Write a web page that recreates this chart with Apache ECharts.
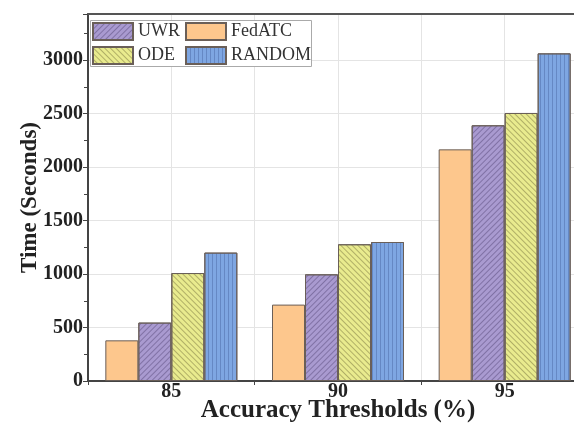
<!DOCTYPE html>
<html>
<head>
<meta charset="utf-8">
<script src="https://cdn.jsdelivr.net/npm/echarts@6/dist/echarts.min.js"></script>
<style>
html,body{margin:0;padding:0;background:#fff;overflow:hidden;width:574px;height:428px;}
#wrap{position:absolute;left:0;top:0;width:574px;height:428px;overflow:hidden;}
#c{position:absolute;left:0;top:0;width:588px;height:428px;}
</style>
</head>
<body>
<div id="wrap"><div id="c"></div></div>
<script>
var categories = ['85', '90', '95'];
var fedatc = [380, 714, 2165];
var uwr = [546, 997, 2390];
var ode = [1009, 1278, 2505];
var random = [1200, 1299, 3062];
var yTicks = [0, 500, 1000, 1500, 2000, 2500, 3000];

var FONT = '"Liberation Serif", "Times New Roman", serif';
var chart = echarts.init(document.getElementById('c'), null, {renderer: 'canvas', width: 588, height: 428});

function bar(name, data, color, decal) {
  var s = {
    name: name, type: 'bar', data: data, barWidth: 33, barGap: '0%',
    xAxisIndex: 0, yAxisIndex: 0, z: 3,
    itemStyle: {color: color, borderColor: '#6a5f58', borderWidth: 1}
  };
  if (decal) s.itemStyle.decal = decal;
  return s;
}

var legendText = {fontFamily: FONT, fontSize: 18, color: '#333'};

var option = {
  backgroundColor: '#fff',
  animation: false,
  grid: {left: 88, right: 0, top: 14, bottom: 47, containLabel: false, outerBoundsMode: 'none'},
  graphic: [{
    type: 'rect', z: 4, zlevel: 0,
    shape: {x: 90.5, y: 20.5, width: 221, height: 46},
    style: {fill: '#fff', stroke: '#aaa', lineWidth: 1}
  }],
  legend: [{
    data: ['UWR', 'ODE'], orient: 'vertical', left: 87, top: 17, z: 6,
    icon: 'rect', itemWidth: 40, itemHeight: 17, itemGap: 5,
    textStyle: legendText
  }, {
    data: ['FedATC', 'RANDOM'], orient: 'vertical', left: 180, top: 17, z: 6,
    icon: 'rect', itemWidth: 40, itemHeight: 17, itemGap: 5,
    textStyle: legendText
  }],
  xAxis: [{
    type: 'category', data: categories, position: 'bottom',
    axisLine: {show: true, lineStyle: {color: '#444', width: 2}},
    axisTick: {show: true, length: 4, inside: false, lineStyle: {color: '#444'}},
    axisLabel: {fontFamily: FONT, fontWeight: 'bold', fontSize: 20, color: '#222', margin: 1},
    splitLine: {show: false},
    name: 'Accuracy Thresholds (%)', nameLocation: 'middle', nameGap: 17, nameMoveOverlap: false,
    nameTextStyle: {fontFamily: FONT, fontWeight: 'bold', fontSize: 25, color: '#222'}
  }, {
    type: 'value', position: 'top', min: 82.5, max: 97.5, interval: 2.5,
    axisLine: {show: true, lineStyle: {color: '#555', width: 2}},
    axisTick: {show: false}, axisLabel: {show: false},
    splitLine: {show: true, lineStyle: {color: '#e4e4e4', width: 1}}
  }],
  yAxis: {
    type: 'value', min: 0, max: 3430, interval: 500,
    axisLine: {show: true, lineStyle: {color: '#444', width: 2}},
    axisTick: {show: true, length: 5, inside: false, lineStyle: {color: '#444'}},
    minorTick: {show: true, splitNumber: 2, length: 4, lineStyle: {color: '#444'}},
    axisLabel: {
      fontFamily: FONT, fontWeight: 'bold', fontSize: 20, color: '#222', margin: 5,
      formatter: function (v) { return yTicks.indexOf(v) >= 0 ? String(v) : ''; }
    },
    splitLine: {show: true, lineStyle: {color: '#e4e4e4', width: 1}},
    name: 'Time (Seconds)', nameLocation: 'middle', nameGap: 46, nameMoveOverlap: false,
    nameTextStyle: {fontFamily: FONT, fontWeight: 'bold', fontSize: 23, color: '#222'}
  },
  series: [
    bar('FedATC', fedatc, '#fdc78d', null),
    bar('UWR', uwr, '#a99ad0', {symbol: 'rect', symbolSize: 1, dashArrayX: [1, 0], dashArrayY: [1, 3], rotation: -Math.PI / 4, color: 'rgba(95,80,130,0.55)'}),
    bar('ODE', ode, '#e9eb8e', {symbol: 'rect', symbolSize: 1, dashArrayX: [1, 0], dashArrayY: [1, 3], rotation: Math.PI / 4, color: 'rgba(130,125,70,0.55)'}),
    bar('RANDOM', random, '#7ea6e2', {symbol: 'rect', symbolSize: 1, dashArrayX: [1, 3], dashArrayY: [1, 0], rotation: 0, color: 'rgba(70,100,160,0.45)'})
  ]
};
chart.setOption(option);
</script>
</body>
</html>
